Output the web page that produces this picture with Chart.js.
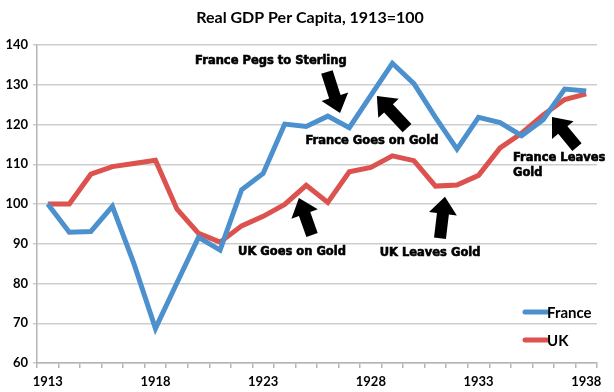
<!DOCTYPE html>
<html>
<head>
<meta charset="utf-8">
<script src="https://cdn.jsdelivr.net/npm/chart.js@4.4.0/dist/chart.umd.min.js"></script>
<style>
  html, body { margin: 0; padding: 0; background: #fff; }
  #wrap { width: 614px; height: 392px; }
</style>
</head>
<body>
<div id="wrap"><canvas id="gdpChart" width="614" height="392"></canvas></div>
<script>
// years on the x axis
var years = ['1913','1914','1915','1916','1917','1918','1919','1920','1921','1922','1923','1924','1925',
             '1926','1927','1928','1929','1930','1931','1932','1933','1934','1935','1936','1937','1938'];
// real GDP per capita, 1913 = 100
var france = [100, 92.9, 93.1, 99.4, 85, 68.7, 80.2, 91.6, 88.4, 103.6, 107.7, 120.1, 119.5,
              122.1, 119.2, 127.3, 135.4, 130.3, 121.8, 113.8, 121.8, 120.5, 117.2, 121.2, 128.9, 128.4];
var uk = [100, 100, 107.5, 109.4, 110.2, 111, 98.7, 92.6, 90.4, 94.5, 96.9, 99.9, 104.7,
          100.4, 108.1, 109.2, 112.1, 110.9, 104.5, 104.8, 107.2, 114.1, 117.8, 122.4, 126.3, 127.7];
var yTicks = [60, 70, 80, 90, 100, 110, 120, 130, 140];
var titleText = 'Real GDP Per Capita, 1913=100';

var blue = 'rgb(76,145,205)';
var red = 'rgb(220,82,78)';
var labelFont = 'Lato';

// arrows and notes, placed in data coords (x = year index, y = value)
var notes = [
  { lines: ['France Pegs to Sterling'], x: 10.36, y: 136.0, align: 'center' },
  { lines: ['France Goes on Gold'], x: 15.05, y: 115.8, align: 'center' },
  { lines: ['France Leaves', 'Gold'], x: 21.6, y: 111.6, align: 'left' },
  { lines: ['UK Goes on Gold'], x: 11.34, y: 87.9, align: 'center' },
  { lines: ['UK Leaves Gold'], x: 17.75, y: 87.7, align: 'center' }
];
var arrows = [
  { from: [12.96, 133.2], to: [13.57, 122.9] },
  { from: [16.68, 119.1], to: [15.28, 127.2] },
  { from: [24.57, 114.3], to: [23.41, 121.9] },
  { from: [12.27, 92.2], to: [11.66, 101.5] },
  { from: [18.21, 91.4], to: [18.44, 101.8] }
];

var notesPlugin = {
  id: 'notes',
  afterDatasetsDraw: function (chart) {
    var ctx = chart.ctx, xs = chart.scales.x, ys = chart.scales.y;
    ctx.save();
    // title
    ctx.fillStyle = '#000';
    ctx.textAlign = 'center';
    ctx.textBaseline = 'middle';
    ctx.font = 'bold 16px ' + labelFont;
    ctx.fillText(titleText, 310, 18);
    // arrows
    arrows.forEach(function (a) {
      var x1 = xs.getPixelForValue(a.from[0]), y1 = ys.getPixelForValue(a.from[1]);
      var x2 = xs.getPixelForValue(a.to[0]), y2 = ys.getPixelForValue(a.to[1]);
      var dx = x2 - x1, dy = y2 - y1, len = Math.sqrt(dx * dx + dy * dy);
      var ux = dx / len, uy = dy / len, px = -uy, py = ux;
      var sw = 6, hw = 14, hl = 17;
      var bx = x2 - ux * hl, by = y2 - uy * hl;
      ctx.beginPath();
      ctx.moveTo(x1 + px * sw, y1 + py * sw);
      ctx.lineTo(bx + px * sw, by + py * sw);
      ctx.lineTo(bx + px * hw, by + py * hw);
      ctx.lineTo(x2, y2);
      ctx.lineTo(bx - px * hw, by - py * hw);
      ctx.lineTo(bx - px * sw, by - py * sw);
      ctx.lineTo(x1 - px * sw, y1 - py * sw);
      ctx.closePath();
      ctx.fill();
    });
    // text
    ctx.font = 'bold 11.5px "DejaVu Sans"';
    ctx.strokeStyle = '#000';
    ctx.lineWidth = 0.6;
    notes.forEach(function (n) {
      ctx.textAlign = n.align;
      var x = xs.getPixelForValue(n.x), y = ys.getPixelForValue(n.y);
      n.lines.forEach(function (t, i) {
        ctx.fillText(t, x, y + i * 15);
        ctx.strokeText(t, x, y + i * 15);
      });
    });
    // legend
    var ca = chart.chartArea;
    ctx.textAlign = 'left';
    ctx.font = 'bold 15px ' + labelFont;
    chart.data.datasets.forEach(function (ds, i) {
      var ly = ca.bottom - 51 + i * 28;
      ctx.strokeStyle = ds.borderColor;
      ctx.lineWidth = 5;
      ctx.lineCap = 'round';
      ctx.beginPath();
      ctx.moveTo(ca.right - 72, ly);
      ctx.lineTo(ca.right - 50, ly);
      ctx.stroke();
      ctx.fillStyle = '#000';
      ctx.fillText(ds.label, ca.right - 50, ly + 1);
    });
    ctx.restore();
  }
};

new Chart(document.getElementById('gdpChart'), {
  type: 'line',
  data: {
    labels: years,
    datasets: [
      { label: 'France', data: france, borderColor: blue, backgroundColor: blue,
        borderWidth: 5, pointRadius: 0, tension: 0 },
      { label: 'UK', data: uk, borderColor: red, backgroundColor: red,
        borderWidth: 5, pointRadius: 0, tension: 0 }
    ]
  },
  options: {
    responsive: false,
    animation: false,
    layout: { padding: { top: 45, right: 17, left: 0 } },
    plugins: {
      legend: { display: false },
      tooltip: { enabled: false },
      title: { display: false }
    },
    scales: {
      x: {
        offset: true,
        grid: { offset: true, drawOnChartArea: false, drawTicks: true, tickLength: 5, color: '#b5b5b5', lineWidth: 1.5 },
        border: { color: '#b5b5b5', width: 1.5 },
        afterFit: function (s) { s.height = 29; },
        ticks: {
          autoSkip: false, maxRotation: 0, color: '#000', padding: 6,
          font: { family: labelFont, size: 13, weight: 'bold' },
          callback: function (v, i) { return i % 5 === 0 ? years[i] : ''; }
        }
      },
      y: {
        min: yTicks[0], max: yTicks[yTicks.length - 1],
        afterFit: function (s) { s.width = 37; },
        afterBuildTicks: function (s) { s.ticks = yTicks.map(function (v) { return { value: v }; }); },
        grid: { color: '#cdcdcd', lineWidth: 1.5, tickLength: 4 },
        border: { color: '#b5b5b5', width: 1.5 },
        ticks: { color: '#000', padding: 5, font: { family: labelFont, size: 13, weight: 'bold' } }
      }
    }
  },
  plugins: [notesPlugin]
});
</script>
</body>
</html>
